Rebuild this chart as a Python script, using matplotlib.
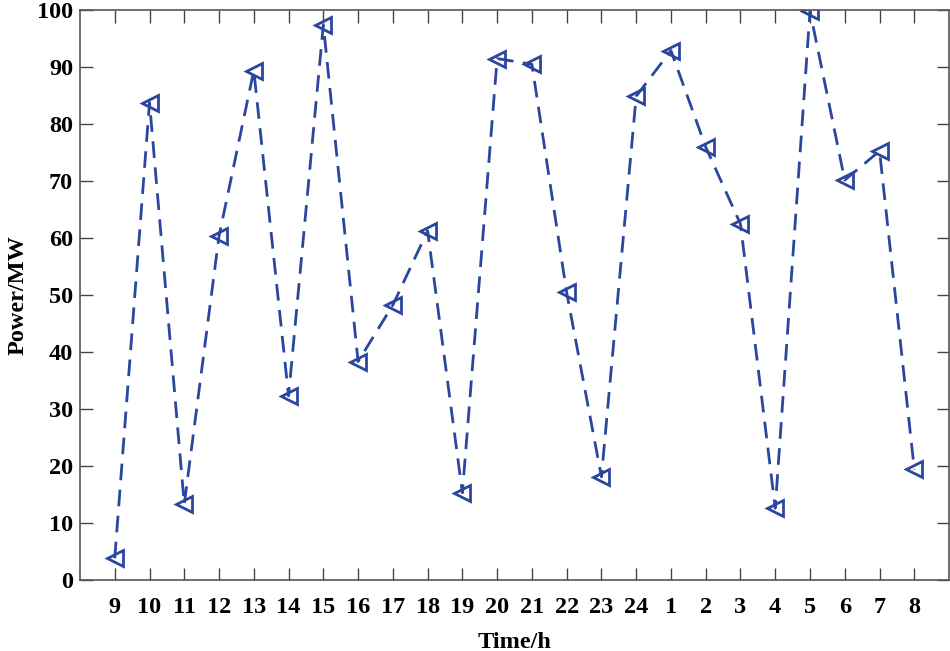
import numpy as np
import matplotlib
matplotlib.use("Agg")
import matplotlib.pyplot as plt

# hours, starting at 9 o'clock
hours = ['9', '10', '11', '12', '13', '14', '15', '16', '17', '18', '19', '20',
         '21', '22', '23', '24', '1', '2', '3', '4', '5', '6', '7', '8']
power = [3.8, 83.7, 13.3, 60.3, 89.3, 32.3, 97.3, 38.3, 48.2, 61.2, 15.3, 91.4,
         90.4, 50.4, 18.1, 84.8, 92.8, 75.9, 62.4, 12.6, 99.7, 70.1, 75.2, 19.4]

plt.rcParams['font.family'] = ['Liberation Serif', 'DejaVu Serif']
plt.rcParams['font.weight'] = 'bold'

fig = plt.figure(figsize=(9.5, 6.51), dpi=100)
ax = fig.add_axes([0.0842, 0.109, 0.9148, 0.8764])

x = np.arange(1, len(hours) + 1)
ax.plot(x, power, linestyle='--', dashes=(6, 3.4), color='#2B469E', linewidth=2.0,
        marker='<', markersize=11, markerfacecolor='none',
        markeredgecolor='#2B469E', markeredgewidth=2.0)

ax.set_xlim(0, 25)
ax.set_ylim(0, 100)
ax.set_xticks(x)
ax.set_xticklabels(hours)
ax.set_yticks(np.arange(0, 101, 10))

ax.tick_params(direction='in', length=9, width=1, colors='#444444',
               top=True, right=True, labelsize=17.5, labelcolor='black')
ax.tick_params(axis='x', pad=12)
ax.tick_params(axis='y', pad=5)
for lbl in ax.get_xticklabels() + ax.get_yticklabels():
    lbl.set_fontweight('bold')
for s in ax.spines.values():
    s.set_color('#555555')
    s.set_linewidth(1.2)

ax.set_xlabel('Time/h', fontsize=17.5, fontweight='bold', labelpad=10)
ax.set_ylabel('Power/MW', fontsize=17.5, fontweight='bold', labelpad=6)

fig.savefig('out.png', dpi=100)
